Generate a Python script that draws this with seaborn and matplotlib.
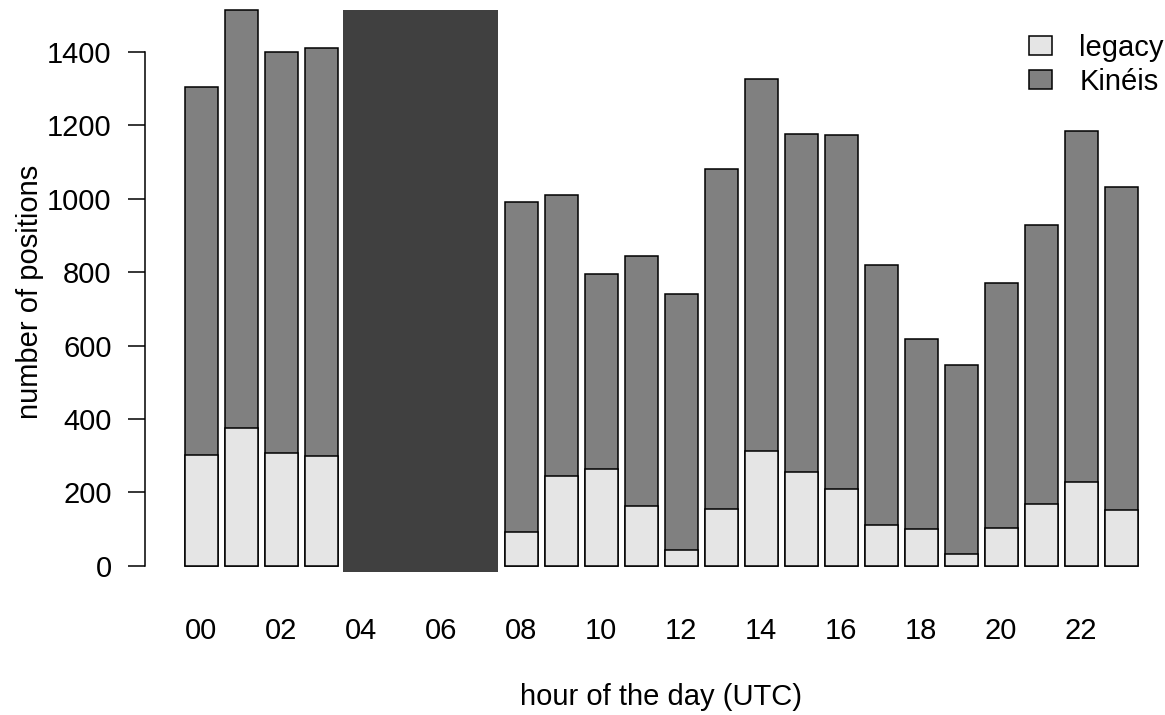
import matplotlib
matplotlib.use("Agg")
import matplotlib.pyplot as plt
from matplotlib.patches import Patch, Rectangle
import pandas as pd
import seaborn as sns

# Données
all_hours = ["%02d" % h for h in range(24)]
gap_hours = ["04", "05", "06", "07"]
hours = ["00", "01", "02", "03", "08", "09", "10", "11", "12", "13",
         "14", "15", "16", "17", "18", "19", "20", "21", "22", "23"]
total = [1306, 1516, 1400, 1412, 991, 1010, 795, 845, 742, 1081,
         1327, 1177, 1174, 821, 618, 548, 771, 930, 1184, 1032]
legacy = [302, 375, 307, 298, 93, 245, 264, 164, 43, 156,
          312, 257, 209, 112, 99, 32, 104, 169, 228, 152]
tick_labels = all_hours[::2]

df = pd.DataFrame({"hour": hours, "total": total, "legacy": legacy})

sns.set_style("white")
plt.rcParams["font.family"] = ["Liberation Sans", "DejaVu Sans"]
plt.rcParams["text.color"] = "black"
plt.rcParams["xtick.color"] = "black"
plt.rcParams["ytick.color"] = "black"

fig = plt.figure(figsize=(11.65, 7.15), dpi=100)
ax = fig.add_axes([145 / 1165, 140 / 715, 1020 / 1165, 575 / 715])

# barres empilées : Kinéis (total) puis legacy par-dessus
sns.barplot(data=df, x="hour", y="total", order=all_hours, color="#808080",
            saturation=1, edgecolor="black", linewidth=1.1, width=0.825,
            errorbar=None, ax=ax)
sns.barplot(data=df, x="hour", y="legacy", order=all_hours, color="#e5e5e5",
            saturation=1, edgecolor="black", linewidth=1.1, width=0.825,
            errorbar=None, ax=ax)

# bloc sombre sur les heures sans données
g0 = all_hours.index(gap_hours[0])
g1 = all_hours.index(gap_hours[-1])
ax.add_patch(Rectangle((g0 - 0.45, -17), (g1 + 0.42) - (g0 - 0.45), max(total) + 17,
                       facecolor="#404040", edgecolor="none", zorder=3))

ax.set_xlim(-1.4, 24.1)
ax.set_ylim(-25, 1542)

ax.set_xticks(range(0, 24, 2))
ax.set_xticklabels(tick_labels)
ax.set_yticks(range(0, 1401, 200))
ax.tick_params(axis="x", length=0, pad=30, labelsize=21, labelcolor="black")
ax.tick_params(axis="y", length=12, width=1.1, pad=12, labelsize=21, direction="out",
               left=True, color="black", labelcolor="black")

for s in ["top", "right", "bottom"]:
    ax.spines[s].set_visible(False)
ax.spines["left"].set_bounds(0, 1400)
ax.spines["left"].set_linewidth(1.1)
ax.spines["left"].set_color("black")

ax.set_xlabel("")
ax.set_ylabel("")
fig.text(661 / 1165, 1 - 697 / 715, "hour of the day (UTC)", ha="center", va="center",
         fontsize=21, color="black")
fig.text(30 / 1165, 1 - 292 / 715, "number of positions", ha="center", va="center",
         rotation=90, fontsize=21, color="black")

handles = [Patch(facecolor="#e5e5e5", edgecolor="black", linewidth=1.1),
           Patch(facecolor="#808080", edgecolor="black", linewidth=1.1)]
leg = ax.legend(handles, ["legacy", "Kinéis"], loc="upper left",
                bbox_to_anchor=(1029 / 1165, 1 - 34 / 715), bbox_transform=fig.transFigure,
                frameon=False, fontsize=21, borderpad=0, borderaxespad=0,
                handlelength=0.8, handleheight=0.62, handletextpad=0.93, labelspacing=0.2)
for t in leg.get_texts():
    t.set_color("black")

fig.savefig("out.png", dpi=100)
